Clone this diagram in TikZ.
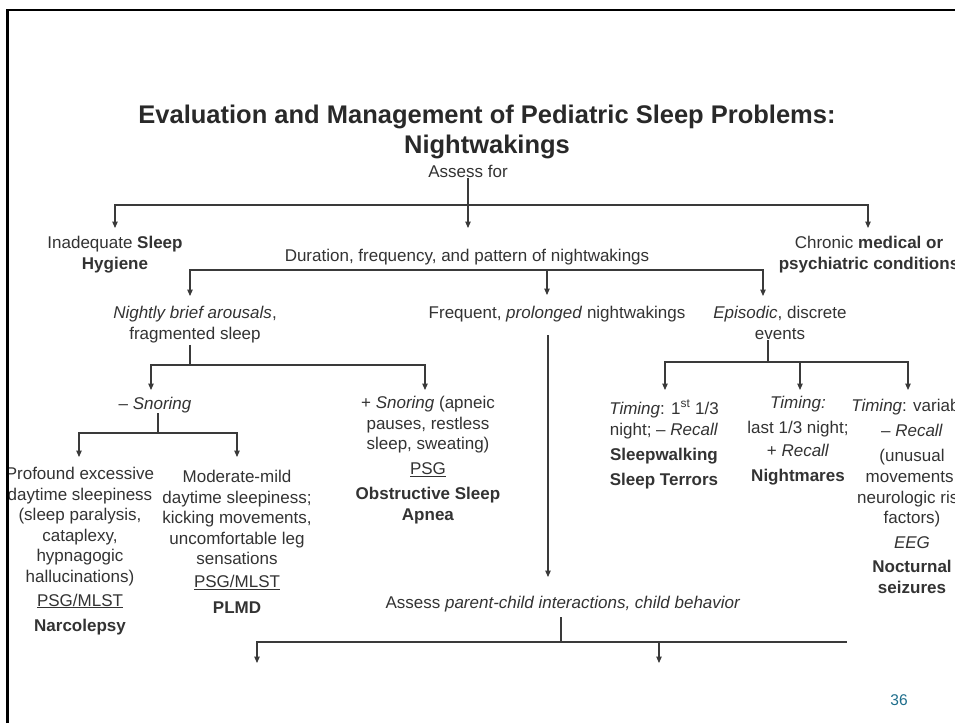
\documentclass[tikz,border=0pt]{standalone}
\usepackage{fontspec}
\setmainfont{Liberation Sans}
\usetikzlibrary{arrows.meta}
\definecolor{txt}{HTML}{333333}
\definecolor{lnc}{HTML}{3A3A3A}
\definecolor{pgnum}{HTML}{1E6E8C}
\begin{document}
\begin{tikzpicture}[x=1pt,y=-1pt,
  lbl/.style={anchor=north,inner sep=0pt,align=center,text=txt,font=\fontsize{17}{20.5}\selectfont},
  ttl/.style={anchor=north,inner sep=0pt,align=center,text=txt!80!black,font=\fontsize{25.5}{30}\selectfont\bfseries},
  ln/.style={draw=lnc,line width=1.1pt},
  arr/.style={ln,-{Triangle[length=6.5pt,width=5.5pt]}},
]
\useasboundingbox (0,0) rectangle (955,723);
\fill[white] (0,0) rectangle (955,723);
\begin{scope}
\clip (8.5,11) rectangle (955,723);
% nodes
\node[ttl] (title) at (487,105) {Evaluation and Management of Pediatric Sleep Problems:\\Nightwakings};
\node[lbl] (assess) at (468,165) {Assess for};
\node[lbl] (hyg) at (115,236) {Inadequate \textbf{Sleep}\\\textbf{Hygiene}};
\node[lbl] (dur) at (467,249) {Duration, frequency, and pattern of nightwakings};
\node[lbl] (chron) at (869,236) {Chronic \textbf{medical or}\\\textbf{psychiatric conditions}};
\node[lbl] (nightly) at (195,306) {\textit{Nightly brief arousals},\\fragmented sleep};
\node[lbl] (freq) at (557,306) {Frequent, \textit{prolonged} nightwakings};
\node[lbl] (epis) at (780,306) {\textit{Episodic}, discrete\\events};
\node[lbl] (nosnore) at (155,397) {-- \textit{Snoring}};
\node[lbl] (snore) at (428,396) {+ \textit{Snoring} (apneic\\pauses, restless\\sleep, sweating)\\[4.5pt]\underline{PSG}\\[4.5pt]\textbf{Obstructive Sleep}\\\textbf{Apnea}};
\node[lbl] (narc) at (80,467) {Profound excessive\\daytime sleepiness\\(sleep paralysis,\\cataplexy,\\hypnagogic\\hallucinations)\\[3.5pt]\underline{PSG/MLST}\\[4.5pt]\textbf{Narcolepsy}};
\node[lbl] (plmd) at (237,470) {Moderate-mild\\daytime sleepiness;\\kicking movements,\\uncomfortable leg\\sensations\\[2.5pt]\underline{PSG/MLST}\\[5.5pt]\textbf{PLMD}};
\node[lbl] (t1) at (664,400) {\textit{Timing}: 1\textsuperscript{st} 1/3\\[0.5pt]night; -- \textit{Recall}\\[4.5pt]\textbf{Sleepwalking}\\[4.5pt]\textbf{Sleep Terrors}};
\node[lbl] (t2) at (798,396) {\textit{Timing:}\\[4.5pt]last 1/3 night;\\[2.5pt]+ \textit{Recall}\\[4.5pt]\textbf{Nightmares}};
\node[lbl] (t3) at (912,399) {\textit{Timing}: variable\\[4.5pt]-- \textit{Recall}\\[4.5pt](unusual\\[0.5pt]movements,\\neurologic risk\\factors)\\[4.5pt]\textit{EEG}\\[3.5pt]\textbf{Nocturnal}\\[0.5pt]\textbf{seizures}};
\node[lbl] (parent) at (563,596) {Assess \textit{parent-child interactions, child behavior}};
\node[lbl,text=pgnum,font=\fontsize{15.5}{18}\selectfont] (pg) at (899,694) {36};
% arrow tips
\coordinate (thyg) at ([yshift=8pt]hyg.north);
\coordinate (tdur) at ([xshift=1pt,yshift=21pt]dur.north);
\coordinate (tchron) at ([xshift=-1pt,yshift=8pt]chron.north);
\coordinate (tnightly) at ([xshift=-5pt,yshift=10pt]nightly.north);
\coordinate (tfreq) at ([xshift=-10pt,yshift=11pt]freq.north);
\coordinate (tepis) at ([xshift=-17pt,yshift=10pt]epis.north);
\coordinate (tnosnore) at ([xshift=-4pt,yshift=7pt]nosnore.north);
\coordinate (tsnore) at ([xshift=-3pt,yshift=6pt]snore.north);
\coordinate (tt1) at ([xshift=1pt,yshift=10pt]t1.north);
\coordinate (tt2) at ([xshift=2pt,yshift=6pt]t2.north);
\coordinate (tt3) at ([xshift=-4pt,yshift=9pt]t3.north);
\coordinate (tnarc) at ([xshift=-1pt,yshift=10pt]narc.north);
\coordinate (tplmd) at ([yshift=13pt]plmd.north);
\coordinate (tparent) at ([xshift=-15pt,yshift=19pt]parent.north);
% bus points
\coordinate (b1) at (468,205);
\coordinate (b2) at (467,270);
\coordinate (b3) at (190,365);
\coordinate (b4) at (768,362);
\coordinate (b5) at (158,433);
\coordinate (b6) at (561,642);
\coordinate (o1) at (257,663);
\coordinate (o2) at (659,663);
\coordinate (oend) at (847,642);
% connectors
\draw[arr] (assess.south) -- (tdur);
\draw[arr] (b1) -| (thyg);
\draw[arr] (b1) -| (tchron);
\draw[arr] (b2) -| (tnightly);
\draw[arr] (b2) -| (tepis);
\draw[arr] (tfreq |- b2) -- (tfreq);
\draw[ln] ([xshift=-5pt,yshift=-2pt]nightly.south) -- (b3);
\draw[arr] (b3) -| (tnosnore);
\draw[arr] (b3) -| (tsnore);
\draw[arr] ([xshift=-9pt,yshift=-13pt]freq.south) -- (tparent);
\draw[ln] ([xshift=-12pt,yshift=-1pt]epis.south) -- (b4);
\draw[arr] (b4) -| (tt1);
\draw[arr] (b4) -| (tt2);
\draw[arr] (b4) -| (tt3);
\draw[ln] ([xshift=3pt]nosnore.south) -- (b5);
\draw[arr] (b5) -| (tnarc);
\draw[arr] (b5) -| (tplmd);
\draw[ln] ([xshift=-2pt,yshift=-5pt]parent.south) -- (b6);
\draw[arr] (b6) -| (o1);
\draw[arr] (b6) -| (o2);
\draw[ln] (b6) -- (oend);
\end{scope}
\draw[black,line width=2.6pt] (7.2,723) -- (7.2,10) -- (955,10);
\end{tikzpicture}
\end{document}
